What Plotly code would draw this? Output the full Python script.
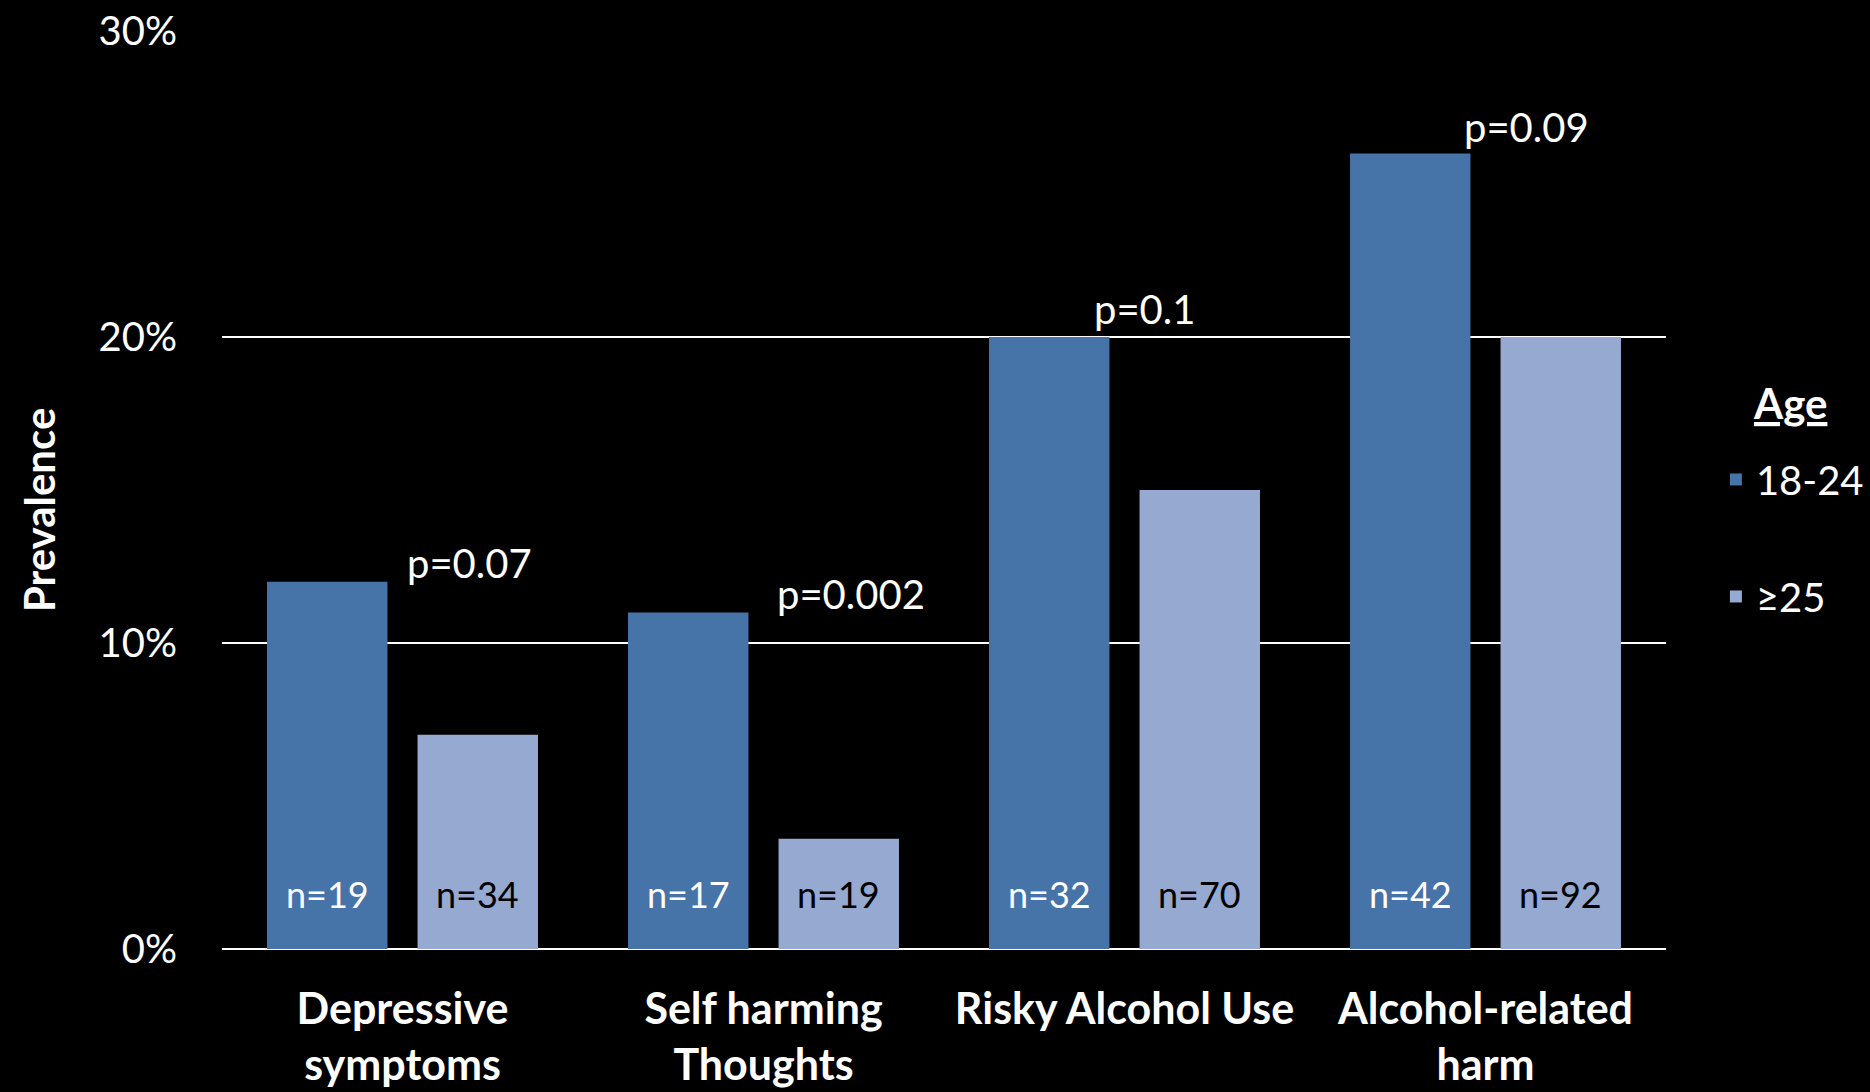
import plotly.graph_objects as go

# ---- data ----
categories = ["Depressive<br>symptoms", "Self harming<br>Thoughts", "Risky Alcohol Use", "Alcohol-related<br>harm"]
series_names = ["18-24", "≥25"]
prev_18_24 = [12, 11, 20, 26]
prev_25_plus = [7, 3.6, 15, 20]
n_18_24 = [19, 17, 32, 42]
n_25_plus = [34, 19, 70, 92]
p_labels = ["p=0.07", "p=0.002", "p=0.1", "p=0.09"]
y_ticks = [0, 10, 20, 30]
y_ticktext = [f"{v}%" for v in y_ticks]

# ---- style ----
DARK = "#4673A8"
LIGHT = "#95A9D1"
FONT = "Lato"
BAR_OFFSET = 75          # px from category centre to bar centre
N_LABEL_Y = 1.8          # data units
P_XSHIFT = [67, 87, 20, 41]
P_YSHIFT = [19, 18, 28, 26]

fig = go.Figure()
fig.add_trace(go.Bar(name=series_names[0], x=categories, y=prev_18_24,
                     marker=dict(color=DARK, line=dict(width=0)), legendgroup="g1"))
fig.add_trace(go.Bar(name=series_names[1], x=categories, y=prev_25_plus,
                     marker=dict(color=LIGHT, line=dict(width=0)), legendgroup="g2"))

annotations = []
for i, cat in enumerate(categories):
    annotations.append(dict(x=cat, y=N_LABEL_Y, xref="x", yref="y", text=f"n={n_18_24[i]}",
                            showarrow=False, xshift=-BAR_OFFSET,
                            font=dict(family=FONT, size=36, color="white")))
    annotations.append(dict(x=cat, y=N_LABEL_Y, xref="x", yref="y", text=f"n={n_25_plus[i]}",
                            showarrow=False, xshift=BAR_OFFSET,
                            font=dict(family=FONT, size=36, color="black")))
    annotations.append(dict(x=cat, y=prev_18_24[i], xref="x", yref="y", text=p_labels[i],
                            showarrow=False, xshift=P_XSHIFT[i], yshift=P_YSHIFT[i],
                            yanchor="middle",
                            font=dict(family=FONT, size=40, color="white")))

# legend title
annotations.append(dict(x=1.0859, y=0.5948, xref="paper", yref="paper", text="<b><u>Age</u></b>",
                        showarrow=False, xanchor="center", yanchor="middle",
                        font=dict(family=FONT, size=42, color="white")))
# y-axis title
annotations.append(dict(x=-0.1267, y=0.4782, xref="paper", yref="paper", text="<b>Prevalence</b>",
                        showarrow=False, textangle=-90, xanchor="center", yanchor="middle",
                        font=dict(family=FONT, size=42, color="white")))

fig.update_layout(
    width=1870, height=1092, autosize=False,
    paper_bgcolor="black", plot_bgcolor="black",
    margin=dict(l=222, r=204, t=31, b=143, autoexpand=False),
    barmode="group", bargap=0.166, bargroupgap=0.2,
    font=dict(family=FONT, color="white"),
    xaxis=dict(showgrid=False, zeroline=False, showline=False, ticks="", automargin=False,
               tickfont=dict(family=FONT, size=43, color="white", weight="bold"),
               ticklabelstandoff=31),
    yaxis=dict(range=[0, 30], tickvals=y_ticks, ticktext=y_ticktext, automargin=False,
               showgrid=True, gridcolor="white", gridwidth=2,
               zeroline=True, zerolinecolor="white", zerolinewidth=2,
               showline=False, ticks="",
               tickfont=dict(family=FONT, size=40, color="white"),
               ticklabelstandoff=44),
    legend=dict(xref="container", yref="container", x=0.9176, xanchor="left",
                y=0.5907, yanchor="top",
                traceorder="grouped", tracegroupgap=62,
                bgcolor="rgba(0,0,0,0)",
                font=dict(family=FONT, size=40, color="white")),
    annotations=annotations,
)

fig.write_html("out.html", post_script="document.body.style.margin='0px';")
